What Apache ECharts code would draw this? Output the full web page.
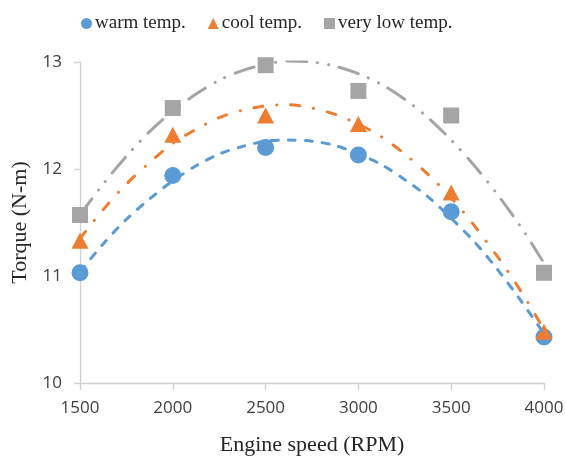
<!DOCTYPE html>
<html>
<head>
<meta charset="utf-8">
<script src="https://cdn.jsdelivr.net/npm/echarts@6/dist/echarts.min.js"></script>
<style>
	html, body { margin: 0; padding: 0; background: #fff; }
	#chart { width: 566px; height: 459px; }
</style>
</head>
<body>
<div id="chart"></div>
<script>
	'use strict'
	/*----data----*/
	var speeds = [1500, 2000, 2500, 3000, 3500, 4000];
	var warmTemp = [11.03, 11.94, 12.20, 12.13, 11.60, 10.43];
	var coolTemp = [11.33, 12.32, 12.50, 12.42, 11.78, 10.48];
	var veryLowTemp = [11.57, 12.57, 12.97, 12.73, 12.50, 11.03];

	// trendline values
	var trendSpeeds = [1500, 1625, 1750, 1875, 2000, 2125, 2250, 2375, 2500, 2625, 2750,
		2875, 3000, 3125, 3250, 3375, 3500, 3625, 3750, 3875, 4000];
	var warmTrend = [11.04, 11.30, 11.53, 11.72, 11.89, 12.03, 12.14, 12.21, 12.26, 12.27, 12.26,
		12.22, 12.14, 12.04, 11.90, 11.74, 11.54, 11.32, 11.06, 10.77, 10.46];
	var coolTrend = [11.35, 11.62, 11.86, 12.06, 12.24, 12.37, 12.48, 12.55, 12.59, 12.60, 12.57,
		12.51, 12.42, 12.30, 12.14, 11.95, 11.73, 11.47, 11.18, 10.86, 10.50];
	var veryLowTrend = [11.57, 11.86, 12.12, 12.35, 12.54, 12.70, 12.83, 12.92, 12.98, 13.01, 13.00,
		12.96, 12.89, 12.79, 12.65, 12.48, 12.27, 12.03, 11.76, 11.46, 11.12];

	var yTicks = [10, 11, 12, 13];

	function pairs(xs, ys) {
		return xs.map(function(x, i) { return [x, ys[i]]; });
	}

	var serif = '"Liberation Serif", "Times New Roman", serif';
	var sans = '"Open Sans", "Liberation Sans", sans-serif';

	var chart = echarts.init(document.getElementById('chart'));
	var option = {
		animation: false,
		grid: {
			top: 62,
			right: 22,
			bottom: 76,
			left: 80,
			containLabel: false,
			outerBoundsMode: 'none'
		},
		legend: {
			top: 9,
			left: 76,
			itemWidth: 11,
			itemHeight: 11,
			itemGap: 22,
			textStyle: {
				fontFamily: serif,
				fontSize: 19,
				color: '#262626',
				padding: [0, 0, 0, -2]
			},
			data: [
				{ name: 'warm temp.', icon: 'circle' },
				{ name: 'cool temp.', icon: 'triangle' },
				{ name: 'very low temp.', icon: 'rect' }
			]
		},
		xAxis: {
			type: 'value',
			min: 1500,
			max: 4000,
			interval: 500,
			name: 'Engine speed (RPM)',
			nameLocation: 'middle',
			nameGap: 51,
			nameTextStyle: {
				fontFamily: serif,
				fontSize: 22,
				color: '#262626'
			},
			axisLine: {
				lineStyle: { color: '#d0d0d0', width: 1.3 }
			},
			axisTick: {
				show: true,
				length: 7,
				lineStyle: { color: '#d0d0d0', width: 1.3 }
			},
			splitLine: { show: false },
			axisLabel: {
				margin: 17,
				fontFamily: sans,
				fontSize: 17,
				color: '#404040',
				formatter: function(v) { return String(v); }
			}
		},
		yAxis: {
			type: 'value',
			min: yTicks[0],
			max: yTicks[yTicks.length - 1],
			interval: 1,
			name: 'Torque (N-m)',
			nameLocation: 'middle',
			nameGap: 49,
			nameTextStyle: {
				fontFamily: serif,
				fontSize: 22,
				color: '#262626'
			},
			axisLine: {
				show: true,
				lineStyle: { color: '#d0d0d0', width: 1.3 }
			},
			axisTick: {
				show: true,
				length: 6,
				lineStyle: { color: '#d0d0d0', width: 1.3 }
			},
			splitLine: { show: false },
			axisLabel: {
				margin: 18,
				fontFamily: sans,
				fontSize: 17,
				color: '#404040'
			}
		},
		series: [{
			name: 'warm temp.',
			type: 'scatter',
			symbol: 'circle',
			symbolSize: 17,
			itemStyle: { color: '#5b9bd5', opacity: 1 },
			data: pairs(speeds, warmTemp)
		}, {
			name: 'cool temp.',
			type: 'scatter',
			symbol: 'triangle',
			symbolSize: [17, 16],
			itemStyle: { color: '#ed7d31', opacity: 1 },
			data: pairs(speeds, coolTemp)
		}, {
			name: 'very low temp.',
			type: 'scatter',
			symbol: 'rect',
			symbolSize: 16,
			itemStyle: { color: '#a5a5a5', opacity: 1 },
			data: pairs(speeds, veryLowTemp)
		}, {
			name: 'warm trend',
			type: 'line',
			smooth: 0.3,
			showSymbol: false,
			lineStyle: { color: '#5b9bd5', width: 3, cap: 'round', type: [7, 10] },
			data: pairs(trendSpeeds, warmTrend)
		}, {
			name: 'cool trend',
			type: 'line',
			smooth: 0.3,
			showSymbol: false,
			lineStyle: { color: '#ed7d31', width: 3, cap: 'round', type: [9, 14, 0.1, 14] },
			data: pairs(trendSpeeds, coolTrend)
		}, {
			name: 'very low trend',
			type: 'line',
			smooth: 0.3,
			showSymbol: false,
			lineStyle: { color: '#a5a5a5', width: 3, cap: 'round', type: [20, 11, 0.1, 11, 0.1, 11] },
			data: pairs(trendSpeeds, veryLowTrend)
		}]
	};
	chart.setOption(option);
</script>
</body>
</html>
